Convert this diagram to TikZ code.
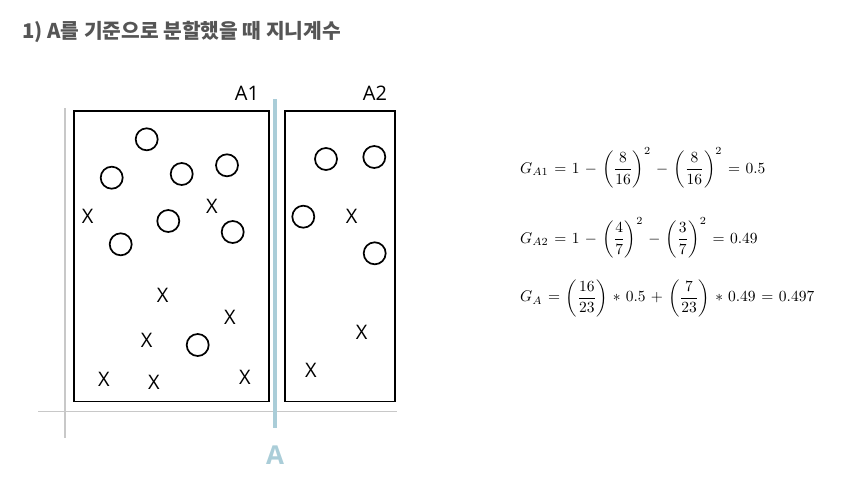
\documentclass[tikz,border=0pt]{standalone}
\usepackage{fontspec}
\usepackage{amsmath}
\usepackage{graphicx}
\newfontfamily\kr{Noto Sans CJK KR}
\newfontfamily\osans{Open Sans}
\definecolor{titlegray}{RGB}{85,85,85}
\definecolor{splitblue}{RGB}{170,205,216}
\definecolor{axisgray}{RGB}{200,200,200}
\newcommand{\gform}[1]{\scalebox{1.55}{$\thickmuskip=6.5mu\medmuskip=6mu\displaystyle #1$}}
\begin{document}
\begin{tikzpicture}[x=1pt,y=-1pt,
  ring/.style={draw=black,line width=1.7pt,circle,minimum size=22pt,inner sep=0pt},
  xmark/.style={font=\osans\fontsize{20}{20}\selectfont,inner sep=0pt},
  boxlab/.style={font=\osans\fontsize{20}{20}\selectfont,inner sep=0pt},
  region/.style={draw=black,line width=1.4pt},
  formula/.style={anchor=west,inner sep=0pt}]
\useasboundingbox (0,0) rectangle (868,479);
% title
\node[anchor=west,inner sep=0pt,text=titlegray,font=\kr\bfseries\fontsize{20.3}{22}\selectfont] (title) at (22,32) {1) A를 기준으로 분할했을 때 지니계수};
% axes
\coordinate (vtop) at (65,108); \coordinate (vbot) at (65,438);
\coordinate (hl) at (38,411.5); \coordinate (hr) at (397,411.5);
\draw[axisgray,line width=1.2pt] (vtop) -- (vbot);
\draw[axisgray,line width=1.2pt] (hl) -- (hr);
% regions
\draw[region] (74,111) rectangle (269,401.5);
\draw[region] (285,111) rectangle (395,401.5);
% split line
\coordinate (stop) at (275,99); \coordinate (sbot) at (275,428);
\draw[splitblue,line width=3.2pt] (stop) -- (sbot);
\node[text=splitblue,font=\osans\bfseries\fontsize{26}{26}\selectfont,inner sep=0pt] (alab) at (275,455) {A};
\node[boxlab] (a1) at (247,93) {A1};
\node[boxlab] (a2) at (375,93) {A2};
% circles left
\node[ring] (c1) at (146.7,139.3) {};
\node[ring] (c2) at (111.7,177.7) {};
\node[ring] (c3) at (181.7,174) {};
\node[ring] (c4) at (227,165.3) {};
\node[ring] (c5) at (168.3,221) {};
\node[ring] (c6) at (232.7,232) {};
\node[ring] (c7) at (120.7,244.3) {};
\node[ring] (c8) at (197.7,345) {};
% circles right
\node[ring] (c9) at (326,159) {};
\node[ring] (c10) at (374.3,157) {};
\node[ring] (c11) at (303.3,216.7) {};
\node[ring] (c12) at (374.7,253.3) {};
% x marks left
\node[xmark] (x1) at (87.7,216) {X};
\node[xmark] (x2) at (212,206.7) {X};
\node[xmark] (x3) at (162.7,295) {X};
\node[xmark] (x4) at (230,317.3) {X};
\node[xmark] (x5) at (146.7,340) {X};
\node[xmark] (x6) at (104,379.3) {X};
\node[xmark] (x7) at (154,382.7) {X};
\node[xmark] (x8) at (245,377.7) {X};
% x marks right
\node[xmark] (x9) at (351.7,216) {X};
\node[xmark] (x10) at (361.7,332.7) {X};
\node[xmark] (x11) at (311,370.7) {X};
% formulas
\node[formula] (f1) at (520,168) {\gform{G_{A1} = 1 - \left(\frac{8}{16}\right)^{2} - \left(\frac{8}{16}\right)^{2} = 0.5}};
\node[formula] (f2) at (520,238) {\gform{G_{A2} = 1 - \left(\frac{4}{7}\right)^{2} - \left(\frac{3}{7}\right)^{2} = 0.49}};
\node[formula] (f3) at (520,298) {\gform{G_{A} = \left(\frac{16}{23}\right) \ast 0.5 + \left(\frac{7}{23}\right) \ast 0.49 = 0.497}};
\end{tikzpicture}
\end{document}
